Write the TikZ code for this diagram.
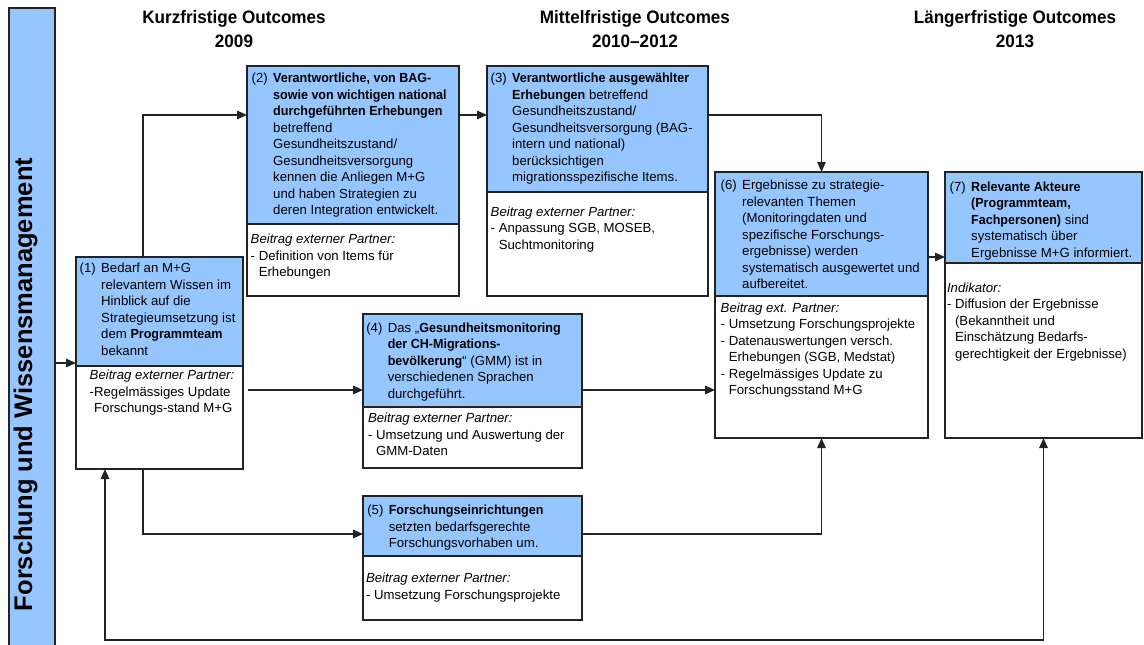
\documentclass[tikz,border=0pt]{standalone}
\usepackage{fontspec}
\setmainfont{Liberation Sans}[BoldFeatures={FakeStretch=0.95}]
\newfontfamily\barfont{Liberation Sans}
\usetikzlibrary{arrows.meta}
\definecolor{boxblue}{RGB}{150,198,255}
\definecolor{edge}{RGB}{35,35,35}
% number of an outcome, followed by hanging text
\newcommand\bxnum[1]{\makebox[21.5pt][l]{#1}}
\newcommand\bxind{\hspace*{21.5pt}}

\begin{document}
\begin{tikzpicture}[x=1pt,y=-1pt,
  boxshape/.style={rectangle, inner sep=0pt, outer sep=0pt, anchor=north west, draw=edge, line width=1.6pt},
  frame/.style={boxshape, fill=white},
  head/.style={boxshape, fill=boxblue},
  txt/.style={anchor=north west, inner sep=0pt, outer sep=0pt, align=left,
              font=\fontsize{13.2}{16.5}\selectfont},
  hdr/.style={anchor=north, inner sep=0pt, outer sep=0pt, align=center,
              font=\fontsize{18}{24}\selectfont\bfseries},
  tip/.tip={Triangle[length=10pt,width=8.5pt]},
  arr/.style={draw=edge, line width=1.4pt, -tip},
  arrboth/.style={draw=edge, line width=1.4pt, tip-tip}
]
\useasboundingbox (0,0) rectangle (1144,645);

% side bar
\node[head, minimum width=46pt, minimum height=640pt] (bar) at (9,8) {};
\node[rotate=90, anchor=base, inner sep=0pt,
      font=\barfont\bfseries\fontsize{25.5}{30}\selectfont] (bartxt) at (32,384.5)
      {Forschung und Wissensmanagement};

% column headings
\node[hdr] (h1) at (234,6.7) {\strut Kurzfristige Outcomes\\2009};
\node[hdr] (h2) at (635,6.7) {\strut Mittelfristige Outcomes\\2010–2012};
\node[hdr] (h3) at (1015,6.7) {\strut Längerfristige Outcomes\\2013};

% outcome boxes: full frame plus blue heading part
\node[frame, minimum width=167pt, minimum height=212pt] (b1) at (76,257) {};
\node[head,  minimum width=167pt, minimum height=109pt] (b1h) at (76,257) {};
\node[frame, minimum width=212pt, minimum height=230pt] (b2) at (247,66) {};
\node[head,  minimum width=212pt, minimum height=158pt] (b2h) at (247,66) {};
\node[frame, minimum width=221pt, minimum height=230pt] (b3) at (487,66) {};
\node[head,  minimum width=221pt, minimum height=126pt] (b3h) at (487,66) {};
\node[frame, minimum width=219pt, minimum height=154pt] (b4) at (363,314) {};
\node[head,  minimum width=219pt, minimum height=93pt] (b4h) at (363,314) {};
\node[frame, minimum width=219pt, minimum height=124pt] (b5) at (363,496) {};
\node[head,  minimum width=219pt, minimum height=60pt] (b5h) at (363,496) {};
\node[frame, minimum width=213pt, minimum height=266pt] (b6) at (715,172) {};
\node[head,  minimum width=213pt, minimum height=124pt] (b6h) at (715,172) {};
\node[frame, minimum width=197pt, minimum height=266pt] (b7) at (945,172) {};
\node[head,  minimum width=197pt, minimum height=91pt] (b7h) at (945,172) {};

% texts of box 1
\node[txt] (t1a) at (79.7,261.4) {\strut\bxnum{(1)}Bedarf an M+G\\
  \bxind relevantem Wissen im\\
  \bxind Hinblick auf die\\
  \bxind Strategieumsetzung ist\\
  \bxind dem \textbf{Programmteam}\\
  \bxind bekannt};
\node[txt] (t1b) at (89.7,368) {\strut\textit{Beitrag externer Partner:}\\
  -Regelmässiges Update\\
  \phantom{-}Forschungs-stand M+G};

% texts of box 2
\node[txt] (t2a) at (251.7,71) {\strut\bxnum{(2)}\textbf{Verantwortliche, von BAG-}\\
  \bxind\textbf{sowie von wichtigen national}\\
  \bxind\textbf{durchgeführten Erhebungen}\\
  \bxind betreffend\\
  \bxind Gesundheitszustand/\\
  \bxind Gesundheitsversorgung\\
  \bxind kennen die Anliegen M+G\\
  \bxind und haben Strategien zu\\
  \bxind deren Integration entwickelt.};
\node[txt] (t2b) at (250.7,232.4) {\strut\textit{Beitrag externer Partner:}\\
  - Definition von Items für\\
  \phantom{- }Erhebungen};

% texts of box 3
\node[txt] (t3a) at (490.7,71) {\strut\bxnum{(3)}\textbf{Verantwortliche ausgewählter}\\
  \bxind\textbf{Erhebungen} betreffend\\
  \bxind Gesundheitszustand/\\
  \bxind Gesundheitsversorgung (BAG-\\
  \bxind intern und national)\\
  \bxind berücksichtigen\\
  \bxind migrationsspezifische Items.};
\node[txt] (t3b) at (490.7,204.5) {\strut\textit{Beitrag externer Partner:}\\
  - Anpassung SGB, MOSEB,\\
  \phantom{- }Suchtmonitoring};

% texts of box 4
\node[txt] (t4a) at (366.3,320.5) {\strut\bxnum{(4)}Das „\textbf{Gesundheitsmonitoring}\\
  \bxind\textbf{der CH-Migrations-}\\
  \bxind\textbf{bevölkerung}“ (GMM) ist in\\
  \bxind verschiedenen Sprachen\\
  \bxind durchgeführt.};
\node[txt] (t4b) at (368,411.4) {\strut\textit{Beitrag externer Partner:}\\
  - Umsetzung und Auswertung der\\
  \phantom{- }GMM-Daten};

% texts of box 5
\node[txt] (t5a) at (367.3,503) {\strut\bxnum{(5)}\textbf{Forschungseinrichtungen}\\
  \bxind setzten bedarfsgerechte\\
  \bxind Forschungsvorhaben um.};
\node[txt] (t5b) at (366,571.4) {\strut\textit{Beitrag externer Partner:}\\
  - Umsetzung Forschungsprojekte};

% texts of box 6
\node[txt] (t6a) at (720.7,178) {\strut\bxnum{(6)}Ergebnisse zu strategie-\\
  \bxind relevanten Themen\\
  \bxind (Monitoringdaten und\\
  \bxind spezifische Forschungs-\\
  \bxind ergebnisse) werden\\
  \bxind systematisch ausgewertet und\\
  \bxind aufbereitet.};
\node[txt] (t6b) at (720.7,300.5) {\strut\textit{Beitrag ext. Partner:}\\
  - Umsetzung Forschungsprojekte\\
  - Datenauswertungen versch.\\
  \phantom{- }Erhebungen (SGB, Medstat)\\
  - Regelmässiges Update zu\\
  \phantom{- }Forschungsstand M+G};

% texts of box 7
\node[txt] (t7a) at (949.7,179.5) {\strut\bxnum{(7)}\textbf{Relevante Akteure}\\
  \bxind\textbf{(Programmteam,}\\
  \bxind\textbf{Fachpersonen)} sind\\
  \bxind systematisch über\\
  \bxind Ergebnisse M+G informiert.};
\node[txt] (t7b) at (947,280.5) {\strut\textit{Indikator:}\\
  - Diffusion der Ergebnisse\\
  \phantom{- }(Bekanntheit und\\
  \phantom{- }Einschätzung Bedarfs-\\
  \phantom{- }gerechtigkeit der Ergebnisse)};

% connectors
\draw[arr] (bar.east |- b1.west) -- (b1.west);
\draw[arr] (b1.north -| 143,0) |- (b2.west |- 0,115);
\draw[arr] (b2.east |- 0,115) -- (b3.west |- 0,115);
\draw[arr] (b3.east |- 0,115) -| (b6.north);
\draw[arr, shorten <=5pt] (b1.east |- 0,390) -- (b4.west |- 0,390);
\draw[arr] (b4.east |- 0,390) -- (b6.west |- 0,390);
\draw[arr] (b1.south -| 143,0) |- (b5.west |- 0,534);
\draw[arr] (b5.east |- 0,534) -| (b6.south);
\draw[arr] (b6.east |- 0,257) -- (b7.west |- 0,257);
\draw[arrboth] (b1.south -| 105,0) |- (b7.south |- 0,640) -- (b7.south);
\end{tikzpicture}
\end{document}
